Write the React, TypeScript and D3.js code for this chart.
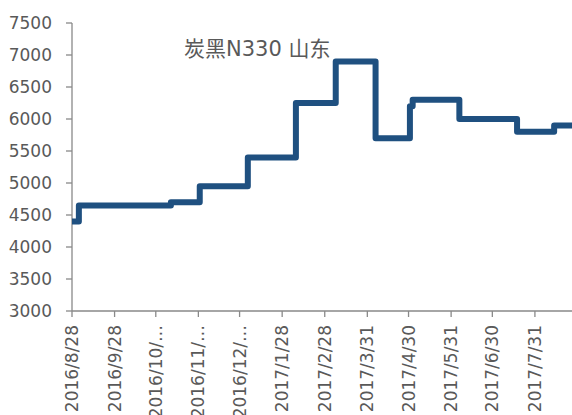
import React from "react";
import * as d3 from "d3";

const title = "炭黑N330 山东";
const domainDates = ["2016-08-28", "2017-08-27"];
const stepDates = [
  "2016-08-28", "2016-09-02", "2016-11-08", "2016-11-29", "2017-01-03",
  "2017-02-07", "2017-03-08", "2017-04-06", "2017-05-01", "2017-05-03",
  "2017-06-06", "2017-07-18", "2017-08-14", "2017-08-27",
];
const stepValues = [4400, 4650, 4700, 4950, 5400, 6250, 6900, 5700, 6200, 6300, 6000, 5800, 5900, 5900];
const tickDates = [
  "2016-08-28", "2016-09-28", "2016-10-28", "2016-11-28", "2016-12-28", "2017-01-28",
  "2017-02-28", "2017-03-31", "2017-04-30", "2017-05-31", "2017-06-30", "2017-07-31",
];
const tickLabels = [
  "2016/8/28", "2016/9/28", "2016/10/…", "2016/11/…", "2016/12/…", "2017/1/28",
  "2017/2/28", "2017/3/31", "2017/4/30", "2017/5/31", "2017/6/30", "2017/7/31",
];
const yTicks = [3000, 3500, 4000, 4500, 5000, 5500, 6000, 6500, 7000, 7500];

const W = 572, H = 415;
const left = 72, right = 572, top = 23, bottom = 311;
const axisColor = "#898989";
const textColor = "#595959";
const lineColor = "#1f5080";
const font = "'DejaVu Sans', 'Noto Sans CJK SC', sans-serif";

export default function App() {
  const parse = (s: string) => new Date(s + "T00:00:00Z");
  const x = d3.scaleUtc().domain(domainDates.map(parse)).range([left, right]);
  const y = d3.scaleLinear().domain([3000, 7500]).range([bottom, top]);
  const data = stepDates.map((d, i) => ({ d: parse(d), v: stepValues[i] }));
  const line = d3
    .line<{ d: Date; v: number }>()
    .x((p) => x(p.d))
    .y((p) => y(p.v))
    .curve(d3.curveStepAfter);

  return (
    <svg width={W} height={H} style={{ position: "absolute", left: 0, top: 0 }} fontFamily={font}>
      <rect width={W} height={H} fill="#fff" />
      <text x={184} y={56} fontSize={21} fill={textColor}>{title}</text>
      {/* y axis */}
      <line x1={left} x2={left} y1={top} y2={bottom} stroke={axisColor} strokeWidth={1.3} />
      {yTicks.map((t) => (
        <g key={t}>
          <line x1={left - 6} x2={left} y1={y(t)} y2={y(t)} stroke={axisColor} strokeWidth={1.3} />
          <text x={52} y={y(t)} dy="0.36em" textAnchor="end" fontSize={17} fill={textColor}>{t}</text>
        </g>
      ))}
      {/* x axis */}
      <line x1={left} x2={right} y1={bottom} y2={bottom} stroke={axisColor} strokeWidth={1.3} />
      {tickDates.map((t, i) => {
        const xx = x(parse(t));
        return (
          <g key={t}>
            <line x1={xx} x2={xx} y1={bottom} y2={bottom + 6} stroke={axisColor} strokeWidth={1.3} />
            <text
              transform={`translate(${xx},${325}) rotate(-90)`}
              dy="0.36em"
              textAnchor="end"
              fontSize={17}
              fill={textColor}
            >
              {tickLabels[i]}
            </text>
          </g>
        );
      })}
      <path d={line(data) || ""} fill="none" stroke={lineColor} strokeWidth={6} strokeLinejoin="round" />
    </svg>
  );
}
